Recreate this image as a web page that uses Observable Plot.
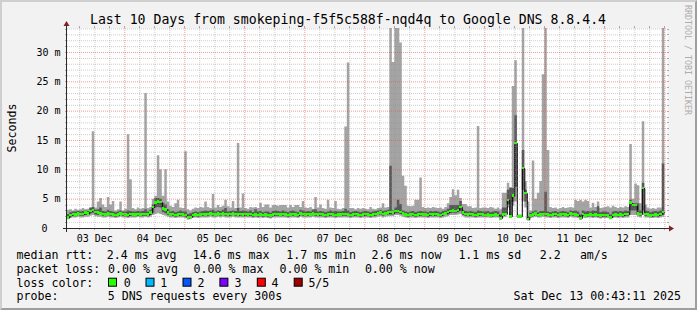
<!DOCTYPE html>
<html><head><meta charset="utf-8">
<script src="https://cdn.jsdelivr.net/npm/d3@7"></script>
<script src="https://cdn.jsdelivr.net/npm/@observablehq/plot@0.6"></script>
<style>html,body{margin:0;padding:0;background:#f2f2f2;} svg{display:block}</style>
</head><body><div id="chart"></div>
<script>
// hourly steps starting 03 Dec 00:00 (index = hour since then)
const medianMs = [
 1.8,1.8,2.2,2.4,2.3,2.5,2.4,2.4,2.6,2.5,2.9,3.1,2.7,2.6,2.5,2.4,2.3,2.5,2.4,2.3,2.2,2.3,2.5,2.4,
 2.3,2.2,2.4,2.3,2.3,2.4,2.3,2.4,2.4,2.3,2.6,3.6,4.3,4.5,4.4,3.3,3.2,2.6,2.3,2.4,2.2,2.3,2.4,2.3,
 2.2,1.8,1.9,2.2,2.3,2.2,2.3,2.4,2.3,2.4,2.5,2.4,2.3,2.5,2.4,2.5,2.4,2.3,2.4,2.5,2.4,2.3,2.4,2.3,
 2.4,2.3,2.4,2.2,2.3,2.2,2.3,2.2,2.3,2.2,2.1,2.3,2.4,2.4,2.3,2.4,2.3,2.2,2.3,2.4,2.3,2.2,2.5,2.4,
 2.3,2.4,2.3,2.5,2.4,2.3,2.4,2.3,2.2,2.3,2.4,2.3,2.2,2.3,2.3,2.4,2.4,2.3,2.2,2.3,2.4,2.3,2.2,2.3,
 2.4,2.3,2.2,2.3,2.4,2.5,2.6,2.4,2.5,2.6,2.7,2.6,2.9,2.9,2.7,2.5,2.3,2.2,2.3,2.4,2.2,2.3,2.4,2.3,
 2.3,2.2,2.4,2.3,2.4,2.3,2.2,2.4,2.5,2.7,2.9,3.0,2.9,3.1,3.6,2.6,2.4,2.3,2.4,2.3,2.2,2.3,2.4,2.3,
 2.2,2.3,2.1,2.2,2.3,2.2,1.7,2.3,2.4,4.8,2.0,5.5,14.5,2.0,2.0,10.2,6.0,1.5,2.1,2.3,2.5,2.2,2.3,2.4,
 2.4,2.3,2.2,2.3,2.4,2.2,2.3,2.4,2.3,2.2,2.5,2.4,2.3,2.2,1.7,2.4,2.1,2.2,2.3,2.2,2.3,2.2,2.1,2.2,
 2.2,2.1,1.8,2.2,2.3,2.2,2.3,2.2,2.4,2.4,4.3,3.9,3.9,2.5,2.4,6.8,2.4,2.3,2.1,2.2,2.3,2.2,2.4,2.7
];
const maxPingMs = [
 3.1,3.1,3.2,3.0,3.3,3.1,3.2,3.4,3.2,3.3,3.6,16.5,3.5,4.5,5.1,4.0,3.6,5.3,4.0,4.6,3.0,3.2,4.5,3.0,
 3.3,16.0,8.3,3.4,3.2,3.5,3.3,3.4,23.0,3.4,3.6,5.0,5.5,12.4,10.0,5.5,10.0,4.5,3.8,3.6,4.2,4.8,3.5,3.4,
 13.1,3.2,3.0,3.3,3.5,3.4,3.6,3.5,4.5,3.6,3.4,5.8,3.5,3.9,3.6,3.8,4.8,3.7,3.5,4.6,3.4,14.5,3.5,5.9,
 3.4,3.3,3.6,3.5,3.6,3.4,4.3,3.6,4.0,4.0,3.5,3.9,3.9,3.8,3.9,3.9,3.9,3.5,3.9,3.6,3.9,3.9,3.6,4.6,
 3.5,3.4,3.6,3.3,5.3,3.5,4.0,3.4,3.3,4.8,3.5,3.4,4.6,3.3,3.2,3.4,17.3,28.2,3.4,3.4,3.2,3.4,3.3,3.4,
 3.3,3.2,3.6,3.3,3.2,3.4,3.5,4.2,3.5,3.6,36,28.3,36,36,31.6,8.9,7.2,3.8,3.7,3.8,4.8,4.8,8.6,3.6,
 3.4,3.5,3.4,3.6,3.5,3.4,3.5,3.3,3.6,4.2,5.3,6.6,5.6,6.5,5.1,4.1,4.1,3.7,3.7,3.4,3.5,17.4,3.4,3.5,
 3.5,3.4,3.6,3.5,3.3,3.5,3.2,6.0,6.0,7.7,7.0,24.2,28.6,2.3,2.3,36,8.0,4.5,3.0,11.5,5.0,6.0,8.0,26.2,
 36,13.3,3.6,3.4,3.5,3.3,3.4,3.6,3.4,3.5,3.6,3.5,4.8,4.6,4.8,4.5,4.8,4.6,3.5,4.3,3.6,4.5,3.4,3.5,
 3.6,3.7,3.5,3.8,3.6,3.4,3.6,3.5,3.7,3.6,14.3,5.0,7.6,7.3,4.2,18.2,4.0,3.5,3.3,3.4,3.3,3.5,3.5,36
];
const upperPingMs = [
 2.3,2.4,2.7,2.8,2.8,2.9,2.8,2.9,3.0,2.9,3.4,3.6,3.1,3.2,3.5,2.9,2.8,3.1,2.9,2.8,2.7,2.8,3.0,2.8,
 2.8,3.0,2.9,2.8,2.8,2.9,2.8,2.9,3.2,2.8,3.1,4.0,5.1,5.1,5.0,4.3,4.0,3.2,2.8,2.9,2.7,2.8,3.0,2.8,
 2.8,2.4,2.5,2.7,2.8,2.7,2.8,2.9,3.0,2.9,3.0,3.1,2.8,3.0,2.9,3.1,3.4,2.8,2.9,3.0,2.9,3.4,2.9,3.0,
 2.9,2.8,3.0,2.7,3.2,2.8,2.9,2.7,2.8,2.8,2.6,2.9,3.0,2.9,2.8,3.0,2.8,2.7,2.9,3.0,2.8,2.7,3.1,3.0,
 2.8,2.9,2.8,3.1,3.2,2.8,2.9,2.8,2.7,2.8,3.0,2.8,2.9,2.8,2.8,2.9,3.3,3.0,2.7,2.8,2.9,2.8,2.7,2.8,
 2.9,2.8,2.7,2.8,2.9,3.0,3.1,2.9,3.0,3.1,10.6,3.0,3.5,4.8,4.1,3.0,2.8,2.7,2.8,2.9,2.7,2.8,2.9,2.8,
 2.8,2.7,2.9,2.8,2.9,2.8,2.7,2.9,3.0,3.3,3.9,3.9,3.9,3.9,4.6,3.1,2.9,2.8,2.9,2.8,2.7,3.0,2.9,2.8,
 2.8,2.9,2.7,2.8,2.9,2.8,2.3,3.5,3.5,6.5,6.8,6.8,19.2,2.2,2.2,13.3,6.5,2.0,2.6,2.8,3.0,2.7,2.9,2.9,
 6.2,2.8,2.7,2.8,2.9,2.7,2.8,2.9,2.8,2.7,3.0,2.9,3.0,2.8,2.3,3.0,2.8,2.9,2.8,3.0,2.9,3.7,2.7,2.8,
 2.8,2.7,2.3,2.8,2.9,2.8,2.9,2.8,3.0,2.9,4.8,4.2,4.2,4.2,3.0,7.7,3.0,2.9,2.7,2.8,2.9,2.8,3.0,11.0
];
const lowerPingMs = [
 1.7,1.7,1.9,2.1,2.0,2.2,2.1,2.1,2.2,2.2,2.5,2.6,2.3,2.2,2.2,2.1,2.0,2.2,2.1,2.0,1.9,2.0,2.2,2.1,
 2.0,1.9,2.1,2.0,2.0,2.1,2.0,2.1,2.1,2.0,2.2,2.6,3.5,3.6,3.5,2.7,2.5,2.2,2.0,2.1,1.9,2.0,2.1,2.0,
 1.9,1.6,1.7,1.9,2.0,1.9,2.0,2.1,2.0,2.1,2.2,2.1,2.0,2.2,2.1,2.2,2.1,2.0,2.1,2.2,2.1,2.0,2.1,2.0,
 2.1,2.0,2.1,1.9,2.0,1.9,2.0,1.9,2.0,1.9,1.8,2.0,2.1,2.1,2.0,2.1,2.0,1.9,2.0,2.1,2.0,1.9,2.2,2.1,
 2.0,2.1,2.0,2.2,2.1,2.0,2.1,2.0,1.9,2.0,2.1,2.0,1.9,2.0,2.0,2.1,2.1,2.0,1.9,2.0,2.1,2.0,1.9,2.0,
 2.1,2.0,1.9,2.0,2.1,2.2,2.3,2.1,2.2,2.3,2.3,2.3,2.5,2.5,2.4,2.2,2.0,1.9,2.0,2.1,1.9,2.0,2.1,2.0,
 2.0,1.9,2.1,2.0,2.1,2.0,1.9,2.1,2.2,2.3,2.5,2.6,2.5,2.7,2.9,2.2,2.1,2.0,2.1,2.0,1.9,2.0,2.1,2.0,
 2.0,2.1,1.9,2.0,2.1,2.0,1.5,2.1,2.2,4.0,2.0,4.5,7.0,1.9,1.9,6.5,4.5,1.4,1.9,2.1,2.2,2.0,2.1,2.2,
 2.1,2.0,1.9,2.0,2.1,1.9,2.0,2.1,2.0,1.9,2.2,2.1,2.0,1.9,1.5,2.1,1.9,2.0,2.0,1.9,2.0,1.9,1.8,1.9,
 1.9,1.9,1.6,1.9,2.0,1.9,2.0,1.9,2.1,2.1,3.0,3.0,3.0,2.2,2.1,3.0,2.1,2.0,1.9,1.9,2.0,1.9,2.1,2.2
];
const minPingMs = [
 1.5,1.5,1.7,1.8,1.8,1.9,1.8,1.8,1.9,1.9,2.1,2.2,2.0,1.9,1.9,1.8,1.8,1.9,1.8,1.8,1.7,1.8,1.9,1.8,
 1.8,1.7,1.8,1.8,1.8,1.9,1.8,1.8,1.9,1.8,1.9,2.2,2.4,2.5,2.4,2.2,2.1,1.9,1.8,1.8,1.7,1.8,1.8,1.8,
 1.7,1.4,1.5,1.7,1.8,1.7,1.8,1.8,1.8,1.8,1.9,1.8,1.8,1.9,1.8,1.9,1.8,1.8,1.8,1.9,1.8,1.8,1.8,1.8,
 1.8,1.8,1.8,1.7,1.8,1.7,1.8,1.7,1.8,1.7,1.6,1.8,1.8,1.8,1.8,1.8,1.8,1.7,1.8,1.8,1.8,1.7,1.9,1.8,
 1.8,1.8,1.8,1.9,1.8,1.8,1.8,1.8,1.7,1.8,1.8,1.8,1.7,1.8,1.8,1.8,1.8,1.8,1.7,1.8,1.8,1.8,1.7,1.8,
 1.8,1.8,1.7,1.8,1.8,1.9,2.0,1.8,1.9,2.0,2.0,2.0,2.2,2.2,2.1,1.9,1.8,1.7,1.8,1.8,1.7,1.8,1.8,1.8,
 1.8,1.7,1.8,1.8,1.8,1.8,1.7,1.8,1.9,2.0,2.2,2.2,2.2,2.3,2.4,2.0,1.8,1.8,1.8,1.8,1.7,1.8,1.8,1.8,
 1.8,1.8,1.7,1.8,1.8,1.8,1.4,1.8,1.9,3.5,1.9,3.8,4.5,1.8,1.8,4.5,3.5,1.3,1.7,1.8,1.9,1.8,1.8,1.9,
 1.8,1.8,1.7,1.8,1.8,1.7,1.8,1.8,1.8,1.7,1.9,1.8,1.8,1.7,1.4,1.8,1.7,1.8,1.8,1.7,1.8,1.7,1.6,1.7,
 1.7,1.7,1.5,1.7,1.8,1.7,1.8,1.7,1.8,1.8,2.2,2.2,2.2,1.9,1.8,2.2,1.8,1.8,1.7,1.7,1.8,1.7,1.8,1.9
];
const dayLabels = ["03 Dec","04 Dec","05 Dec","06 Dec","07 Dec","08 Dec","09 Dec","10 Dec","11 Dec","12 Dec"];
const yTickValues = [0,5,10,15,20,25,30];
const titleText = "Last 10 Days from smokeping-f5f5c588f-nqd4q to Google DNS 8.8.4.4";
const unitText = "Seconds";
const watermarkText = "RRDTOOL / TOBI OETIKER";
const rttLine = ["median rtt:","2.4 ms avg","14.6 ms max","1.7 ms min","2.6 ms now","1.1 ms sd","2.2","am/s"];
const lossLine = ["packet loss:","0.00 % avg","0.00 % max","0.00 % min","0.00 % now"];
const lossColorLabel = "loss color:";
const lossLabels = ["0","1","2","3","4","5/5"];
const lossColors = ["#26ff00","#00b8ff","#0059ff","#7e00ff","#ff0000","#a00000"];
const probeLine = ["probe:","5 DNS requests every 300s"];
const dateText = "Sat Dec 13 00:43:11 2025";

// layout (pixels) kept apart from the data
const rttX = [16.5,106.8,192.7,286.2,371.6,458.4,539.8,579.9];
const lossX = [16.5,108.1,193.6,279.5,364.9];
const swatchX = [108,145.5,182.5,219.4,256.8,293.7];
const lossLabelX = [123.7,160.2,197.6,234.5,271.5,308.4];
const probeX = [16.5,107.7];

const X_START = 1.08, X_END = 241.08, Y_MAX = 34.09;
const rows = medianMs.map((m, i) => ({t: i, med: m, hi: maxPingMs[i], dhi: upperPingMs[i], dlo: lowerPingMs[i], lo: minPingMs[i]}));
const last = rows[rows.length - 1];
const stepRows = rows.concat([{...last, t: last.t + 1}]);

const minorY = d3.range(1, 35).filter(v => v % 5 !== 0);
const majorY = d3.range(5, 35, 5);
const minorX = d3.range(6, 241, 6).filter(h => h % 24 !== 0 && h > X_START);
const majorX = d3.range(24, 241, 24);

const GRID = "rgb(143,143,143)", MGRID = "rgb(222,79,79)";

const chart = Plot.plot({
  width: 697, height: 310,
  marginLeft: 67, marginRight: 30, marginTop: 28, marginBottom: 82,
  style: {background: "#f2f2f2", fontFamily: "'DejaVu Sans Mono', monospace", fontSize: "10px", color: "black"},
  x: {type: "linear", domain: [X_START, X_END], axis: null},
  y: {type: "linear", domain: [0, Y_MAX], axis: null},
  marks: [
    Plot.frame({fill: "white", stroke: "none"}),
    Plot.areaY(stepRows, {x: "t", y1: "lo", y2: "hi", curve: "step-after", fill: "#a4a4a4", clip: true}),
    Plot.areaY(stepRows, {x: "t", y1: "dlo", y2: "dhi", curve: "step-after", fill: "#585858", clip: true}),
    Plot.line(stepRows, {x: "t", y: "med", curve: "step-after", stroke: "#000", strokeWidth: 1, clip: true}),
    Plot.rect(rows, {x1: "t", x2: d => d.t + 1, y1: d => d.med - 0.22, y2: d => d.med + 0.22, fill: "#26ff00", clip: true, shapeRendering: "crispEdges"}),
    Plot.ruleY(minorY, {stroke: GRID, strokeOpacity: 0.45, strokeDasharray: "1,1"}),
    Plot.ruleX(minorX, {stroke: GRID, strokeOpacity: 0.45, strokeDasharray: "1,1"}),
    Plot.ruleY(majorY, {stroke: MGRID, strokeOpacity: 0.55, strokeDasharray: "1,1"}),
    Plot.ruleX(majorX, {stroke: MGRID, strokeOpacity: 0.55, strokeDasharray: "1,1"}),
    Plot.text(dayLabels, {x: (d, i) => 12 + 24 * i, text: d => d, frameAnchor: "bottom", dy: 10, lineAnchor: "middle", fontSize: 10, fill: "black"}),
    Plot.text(yTickValues.filter(v => v > 0), {y: d => d, text: d => `${d} m`, frameAnchor: "left", dx: -7, textAnchor: "end", lineAnchor: "middle", fontSize: 10, fill: "black"}),
    Plot.text(yTickValues.filter(v => v === 0), {y: d => d, text: d => `${d}`, frameAnchor: "left", dx: -20, textAnchor: "end", lineAnchor: "middle", fontSize: 10, fill: "black"})
  ]
});
document.getElementById("chart").appendChild(chart);

const sx = v => chart.scale("x").apply(v);
const sy = v => chart.scale("y").apply(v);
const x0 = sx(X_START), x1 = sx(X_END), y0 = sy(0), yT = sy(Y_MAX);
const svg = d3.select(chart);
const g = svg.append("g");

// small ticks outside the canvas
minorY.concat(majorY).forEach(v => {
  const c = majorY.includes(v) ? "rgba(222,79,79,0.6)" : "rgba(143,143,143,0.75)";
  const yy = Math.round(sy(v)) + 0.5;
  g.append("line").attr("x1", x0 - 2).attr("x2", x0).attr("y1", yy).attr("y2", yy).attr("stroke", c);
  g.append("line").attr("x1", x1).attr("x2", x1 + 2).attr("y1", yy).attr("y2", yy).attr("stroke", c);
});
minorX.concat(majorX).forEach(h => {
  const c = majorX.includes(h) ? "rgba(222,79,79,0.6)" : "rgba(143,143,143,0.75)";
  const xx = Math.round(sx(h)) + 0.5;
  g.append("line").attr("x1", xx).attr("x2", xx).attr("y1", y0).attr("y2", y0 + 2).attr("stroke", c);
  g.append("line").attr("x1", xx).attr("x2", xx).attr("y1", yT - 2).attr("y2", yT).attr("stroke", c);
});

// axes with arrows
const AX = "#2a2a2a";
g.append("line").attr("x1", x0 - 4).attr("x2", x1 + 4).attr("y1", y0 + 0.5).attr("y2", y0 + 0.5).attr("stroke", AX);
g.append("line").attr("x1", x0 - 0.5).attr("x2", x0 - 0.5).attr("y1", y0 + 4).attr("y2", yT - 4).attr("stroke", AX);
g.append("path").attr("d", `M${x1 + 2},${y0 - 2.5}L${x1 + 2},${y0 + 3.5}L${x1 + 7},${y0 + 0.5}Z`).attr("fill", "#802020");
g.append("path").attr("d", `M${x0 - 3.5},${yT - 2}L${x0 + 2.5},${yT - 2}L${x0 - 0.5},${yT - 7}Z`).attr("fill", "#802020");

// bevel frame
const W = 697, H = 310;
g.append("path").attr("d", `M0,${H}L2,${H - 2}L2,2L${W - 2},2L${W},0L0,0Z`).attr("fill", "#cfcfcf");
g.append("path").attr("d", `M2,${H - 2}L${W - 2},${H - 2}L${W - 2},2L${W},0L${W},${H}L0,${H}Z`).attr("fill", "#9e9e9e");

const FONT = "'DejaVu Sans Mono', monospace";
const txt = (s, x, y, size, opts = {}) => {
  const t = g.append("text").attr("x", x).attr("y", y).attr("font-family", FONT).attr("font-size", size)
    .attr("fill", opts.fill || "#000").attr("text-anchor", opts.anchor || "start").text(s);
  if (opts.transform) t.attr("transform", opts.transform);
  return t;
};
txt(titleText, 348, 23.5, 13.2, {anchor: "middle"});
txt(unitText, 15.5, (y0 + yT) / 2, 11.6, {anchor: "middle", transform: `rotate(-90 15.5 ${(y0 + yT) / 2})`});
txt(watermarkText, 685, 5, 8.3, {fill: "#adadad", transform: "rotate(90 685 5)"});

const LS = 11.6;
rttLine.forEach((s, i) => txt(s, rttX[i], 259.3, LS));
lossLine.forEach((s, i) => txt(s, lossX[i], 272.8, LS));
txt(lossColorLabel, 16.5, 286.5, LS);
lossLabels.forEach((s, i) => {
  g.append("rect").attr("x", swatchX[i] + 0.5).attr("y", 278.2).attr("width", 8).attr("height", 8)
    .attr("fill", lossColors[i]).attr("stroke", "#000").attr("stroke-width", 1);
  txt(s, lossLabelX[i], 286.5, LS);
});
probeLine.forEach((s, i) => txt(s, probeX[i], 300.2, LS));
txt(dateText, 681, 300.2, LS, {anchor: "end"});
</script></body></html>
